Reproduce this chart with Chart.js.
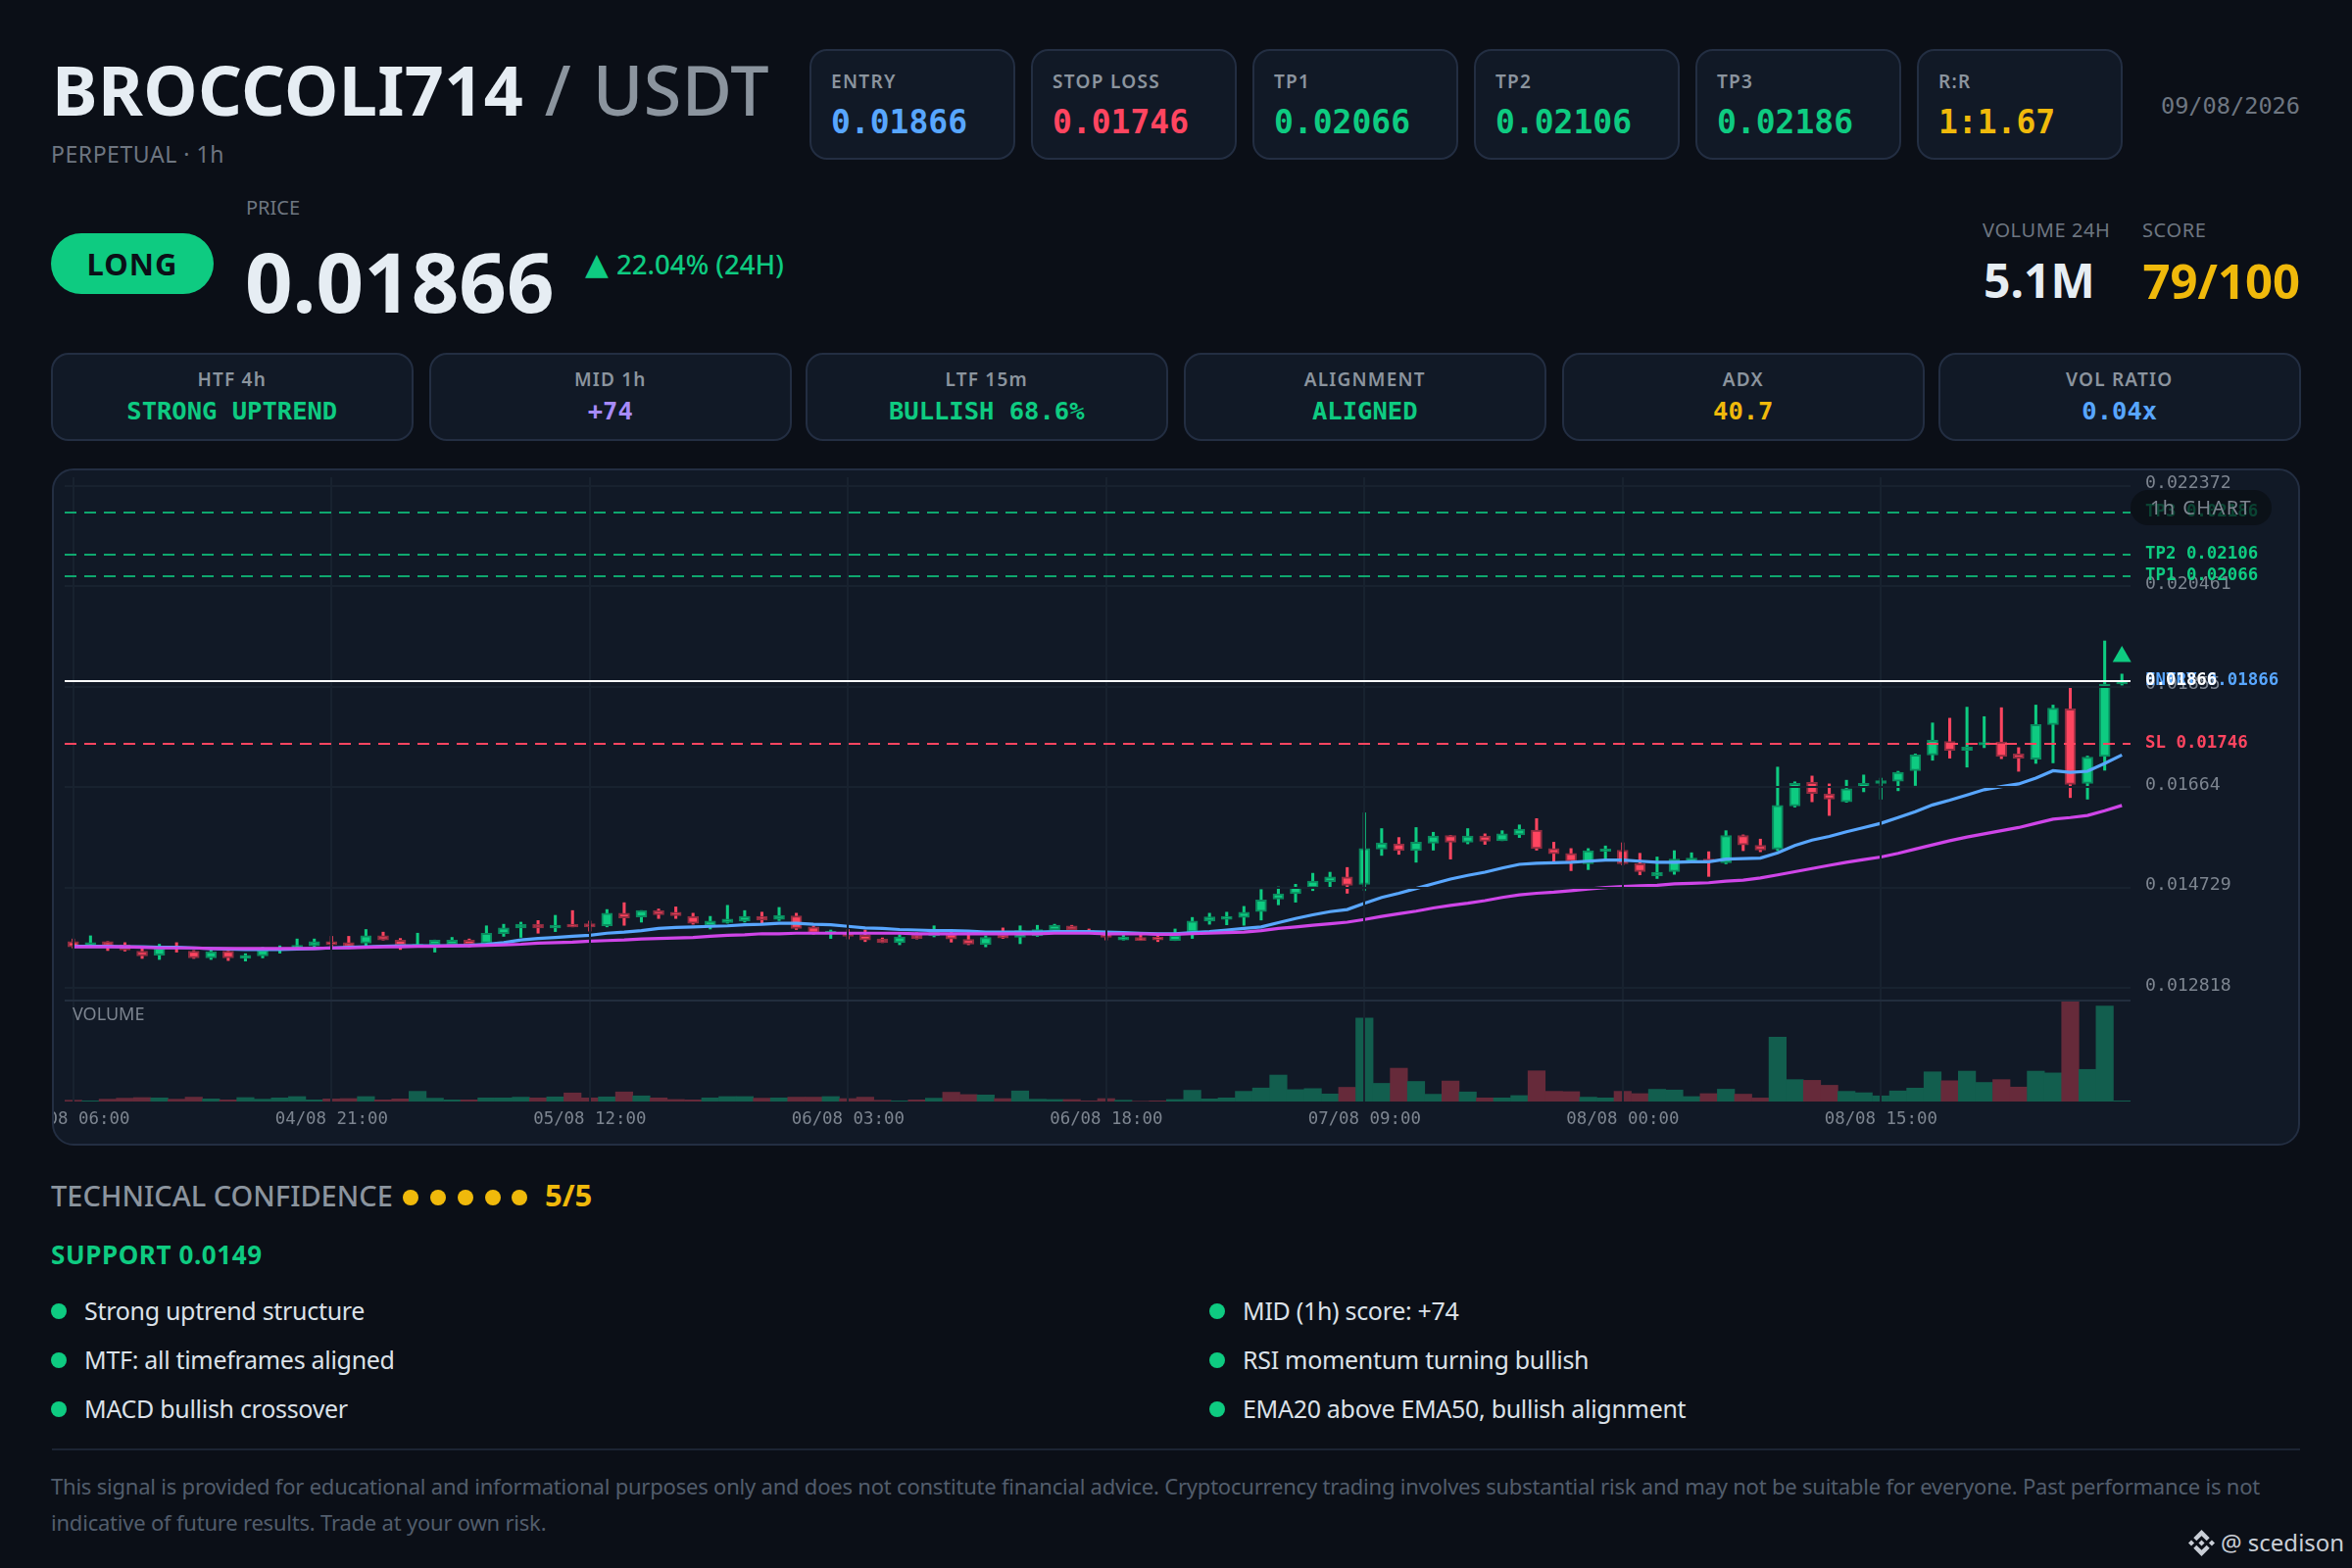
<!DOCTYPE html>
<html>
<head>
<meta charset="utf-8">
<title>BROCCOLI714 / USDT</title>
<script src="https://cdn.jsdelivr.net/npm/chart.js@4"></script>
<style>
    html, body { margin: 0; padding: 0; width: 2400px; height: 1600px; background: #0b0f17; overflow: hidden; }
    body { position: relative; font-family: "Noto Sans", sans-serif; color: #e6edf3; }
    .t { position: absolute; line-height: 1; white-space: nowrap; }
    .mono { font-family: "DejaVu Sans Mono", monospace; }
    .card { position: absolute; box-sizing: border-box; background: #111926; border: 2px solid #232e42; }
    .stat { top: 50px; width: 209.5px; height: 113px; border-radius: 18px; }
    .stat .lbl { left: 20px; top: 22px; font-size: 19px; font-weight: 600; letter-spacing: 1.3px; color: #8b949e; }
    .stat .val { left: 20px; top: 56px; font-size: 33px; font-weight: 700; }
    .tf { top: 360px; width: 369.5px; height: 90px; border-radius: 18px; }
    .tf .lbl { left: 0; right: 0; top: 16px; text-align: center; font-size: 19px; font-weight: 600; letter-spacing: 1.2px; color: #8b949e; }
    .tf .val { left: 0; right: 0; top: 45px; text-align: center; font-size: 25.5px; font-weight: 700; }
    .green { color: #0ecb81; } .red { color: #ff4560; } .blue { color: #58a6ff; }
    .yellow { color: #f0b90b; } .purple { color: #a78bfa; }
    .gray { color: #8b949e; }
    #chart-card { left: 53px; top: 478px; width: 2294px; height: 691px; border-radius: 22px; overflow: hidden; }
    #chart-card canvas { position: absolute; left: 0; top: 0; }
    #pill { left: 2119px; top: 20px; width: 144px; height: 36px; border-radius: 18px; background: rgba(10,14,20,0.72);
            text-align: center; line-height: 36px; font-size: 20px; letter-spacing: 1.4px; color: #7d8590; }
    .dot { position: absolute; width: 16px; height: 16px; border-radius: 50%; }
    .bullet { font-size: 25px; letter-spacing: -0.3px; color: #dbe1e8; }
    #rule { position: absolute; left: 53px; top: 1478px; width: 2294px; height: 2px; background: #1c2433; }
    #disclaimer { left: 52px; top: 1498px; font-size: 22px; letter-spacing: -0.21px; line-height: 36.7px; color: #525d6c; }
</style>
</head>
<body>

<!-- Header -->
<div class="t" style="left:53px;top:56px;font-size:70px;font-weight:700;letter-spacing:0.4px;word-spacing:3px">BROCCOLI714 <span style="font-weight:500;color:#8b949e">/ USDT</span></div>
<div class="t" style="left:52px;top:146px;font-size:23px;letter-spacing:0.55px;color:#6e7681">PERPETUAL · 1h</div>

<div class="card stat" style="left:826px"><div class="t lbl">ENTRY</div><div class="t val mono blue">0.01866</div></div>
<div class="card stat" style="left:1052px"><div class="t lbl">STOP LOSS</div><div class="t val mono red">0.01746</div></div>
<div class="card stat" style="left:1278px"><div class="t lbl">TP1</div><div class="t val mono green">0.02066</div></div>
<div class="card stat" style="left:1504px"><div class="t lbl">TP2</div><div class="t val mono green">0.02106</div></div>
<div class="card stat" style="left:1730px"><div class="t lbl">TP3</div><div class="t val mono green">0.02186</div></div>
<div class="card stat" style="left:1956px"><div class="t lbl">R:R</div><div class="t val mono yellow">1:1.67</div></div>
<div class="t mono" style="right:53px;top:96.5px;font-size:23.6px;color:#6e7681">09/08/2026</div>

<!-- Price row -->
<div class="t" style="left:251px;top:201.5px;font-size:20px;color:#6e7681">PRICE</div>
<div style="position:absolute;left:52px;top:238px;width:166px;height:62px;border-radius:31px;background:#0ecb81"></div>
<div class="t" style="left:52px;width:166px;text-align:center;top:254px;font-size:31px;font-weight:700;letter-spacing:1px;color:#0b0f17">LONG</div>
<div class="t" style="left:250px;top:244px;font-size:85px;font-weight:700">0.01866</div>
<div class="t green" style="left:597px;top:254px;font-size:31px;font-family:'DejaVu Sans'">▲</div>
<div class="t green" style="left:629px;top:256px;font-size:27.6px;font-weight:500">22.04% (24H)</div>
<div class="t" style="left:2023px;top:225px;font-size:20px;letter-spacing:0.6px;color:#6e7681">VOLUME 24H</div>
<div class="t" style="left:2186px;top:225px;font-size:20px;letter-spacing:0.6px;color:#6e7681">SCORE</div>
<div class="t" style="left:2024px;top:262px;font-size:48px;font-weight:700">5.1M</div>
<div class="t yellow" style="right:53px;top:262px;font-size:49px;font-weight:700">79/100</div>

<!-- Timeframe row -->
<div class="card tf" style="left:52px"><div class="t lbl">HTF 4h</div><div class="t val mono green">STRONG UPTREND</div></div>
<div class="card tf" style="left:438px"><div class="t lbl">MID 1h</div><div class="t val mono purple">+74</div></div>
<div class="card tf" style="left:822px"><div class="t lbl">LTF 15m</div><div class="t val mono green">BULLISH 68.6%</div></div>
<div class="card tf" style="left:1208px"><div class="t lbl">ALIGNMENT</div><div class="t val mono green">ALIGNED</div></div>
<div class="card tf" style="left:1594px"><div class="t lbl">ADX</div><div class="t val mono yellow">40.7</div></div>
<div class="card tf" style="left:1978px"><div class="t lbl">VOL RATIO</div><div class="t val mono blue">0.04x</div></div>

<!-- Chart -->
<div class="card" id="chart-card">
    <canvas id="priceChart" width="2290" height="687"></canvas>
    <div class="t" style="left:19px;top:545px;font-size:18px;color:#7d8590">VOLUME</div>
    <div class="t" id="pill">1h CHART</div>
</div>

<!-- Bottom section -->
<div class="t gray" style="left:52px;top:1205px;font-size:29px;font-weight:500">TECHNICAL CONFIDENCE</div>
<div class="dot" style="left:411px;top:1214px;background:#f0b90b"></div>
<div class="dot" style="left:439px;top:1214px;background:#f0b90b"></div>
<div class="dot" style="left:467px;top:1214px;background:#f0b90b"></div>
<div class="dot" style="left:495px;top:1214px;background:#f0b90b"></div>
<div class="dot" style="left:522px;top:1214px;background:#f0b90b"></div>
<div class="t yellow" style="left:556px;top:1204px;font-size:31px;font-weight:700">5/5</div>
<div class="t green" style="left:52px;top:1267px;font-size:26px;font-weight:700;letter-spacing:0.6px">SUPPORT 0.0149</div>

<div class="dot" style="left:52px;top:1330px;background:#0ecb81"></div>
<div class="t bullet" style="left:86px;top:1325px">Strong uptrend structure</div>
<div class="dot" style="left:52px;top:1380px;background:#0ecb81"></div>
<div class="t bullet" style="left:86px;top:1375px">MTF: all timeframes aligned</div>
<div class="dot" style="left:52px;top:1430px;background:#0ecb81"></div>
<div class="t bullet" style="left:86px;top:1425px">MACD bullish crossover</div>
<div class="dot" style="left:1234px;top:1330px;background:#0ecb81"></div>
<div class="t bullet" style="left:1268px;top:1325px">MID (1h) score: +74</div>
<div class="dot" style="left:1234px;top:1380px;background:#0ecb81"></div>
<div class="t bullet" style="left:1268px;top:1375px">RSI momentum turning bullish</div>
<div class="dot" style="left:1234px;top:1430px;background:#0ecb81"></div>
<div class="t bullet" style="left:1268px;top:1425px">EMA20 above EMA50, bullish alignment</div>

<div id="rule"></div>
<div class="t" id="disclaimer">This signal is provided for educational and informational purposes only and does not constitute financial advice. Cryptocurrency trading involves substantial risk and may not be suitable for everyone. Past performance is not<br>indicative of future results. Trade at your own risk.</div>

<svg style="position:absolute;left:2233px;top:1561px" width="27" height="27" viewBox="0 0 24 24" fill="#c9ced6">
    <path d="M7.4 10.1 12 5.5l4.6 4.6 2.7-2.7L12 0 4.7 7.4zM0 12l2.7-2.7L5.4 12l-2.7 2.7zM7.4 13.9 12 18.5l4.6-4.6 2.7 2.7L12 24l-7.3-7.4zM18.6 12l2.7-2.7L24 12l-2.7 2.7zM14.7 12 12 9.3 9.3 12 12 14.7z"/>
</svg>
<div class="t" style="left:2266px;top:1562px;font-size:24px;color:#c9ced6">@ scedison</div>

<script>
// ---------- Data ----------
const timeTickLabels = ['04/08 06:00', '04/08 21:00', '05/08 12:00', '06/08 03:00', '06/08 18:00', '07/08 09:00', '08/08 00:00', '08/08 15:00'];
const priceTicks = [0.012818, 0.014729, 0.01664, 0.01855, 0.020461, 0.022372];

const opens = [
    0.01370, 0.01360, 0.01370, 0.01364, 0.01352, 0.01344, 0.01360, 0.01352, 0.01339, 0.01352,
    0.01338, 0.01343, 0.01356, 0.01358, 0.01362, 0.01370, 0.01368, 0.01367, 0.01381, 0.01373,
    0.01363, 0.01364, 0.01364, 0.01373, 0.01367, 0.01385, 0.01396, 0.01403, 0.01396, 0.01403,
    0.01404, 0.01400, 0.01424, 0.01417, 0.01429, 0.01426, 0.01418, 0.01400, 0.01406, 0.01409,
    0.01418, 0.01412, 0.01419, 0.01398, 0.01387, 0.01387, 0.01382, 0.01375, 0.01368, 0.01382,
    0.01381, 0.01385, 0.01374, 0.01364, 0.01382, 0.01378, 0.01381, 0.01392, 0.01400, 0.01391,
    0.01389, 0.01373, 0.01378, 0.01379, 0.01372, 0.01388, 0.01409, 0.01412, 0.01416, 0.01427,
    0.01451, 0.01461, 0.01473, 0.01484, 0.01493, 0.01479, 0.01546, 0.01556, 0.01543, 0.01557,
    0.01572, 0.01559, 0.01571, 0.01562, 0.01573, 0.01582, 0.01547, 0.01538, 0.01518, 0.01542,
    0.01544, 0.01518, 0.01495, 0.01503, 0.01521, 0.01527, 0.01520, 0.01572, 0.01553, 0.01546,
    0.01628, 0.01673, 0.01651, 0.01636, 0.01663, 0.01671, 0.01675, 0.01695, 0.01725, 0.01751,
    0.01734, 0.01744, 0.01750, 0.01727, 0.01717, 0.01783, 0.01813, 0.01671, 0.01722, 0.01860
];
const highs = [
    0.01375, 0.01381, 0.01370, 0.01368, 0.01356, 0.01365, 0.01368, 0.01353, 0.01354, 0.01353,
    0.01347, 0.01359, 0.01362, 0.01375, 0.01375, 0.01380, 0.01380, 0.01393, 0.01388, 0.01376,
    0.01386, 0.01373, 0.01378, 0.01375, 0.01400, 0.01403, 0.01407, 0.01410, 0.01420, 0.01429,
    0.01409, 0.01431, 0.01444, 0.01429, 0.01432, 0.01436, 0.01424, 0.01418, 0.01439, 0.01429,
    0.01426, 0.01435, 0.01424, 0.01400, 0.01392, 0.01393, 0.01392, 0.01377, 0.01383, 0.01387,
    0.01400, 0.01391, 0.01391, 0.01381, 0.01396, 0.01400, 0.01401, 0.01403, 0.01401, 0.01394,
    0.01390, 0.01384, 0.01384, 0.01385, 0.01394, 0.01416, 0.01424, 0.01426, 0.01437, 0.01469,
    0.01474, 0.01479, 0.01500, 0.01502, 0.01511, 0.01615, 0.01585, 0.01568, 0.01587, 0.01578,
    0.01572, 0.01585, 0.01575, 0.01581, 0.01592, 0.01604, 0.01559, 0.01547, 0.01547, 0.01552,
    0.01558, 0.01538, 0.01531, 0.01543, 0.01539, 0.01541, 0.01581, 0.01573, 0.01565, 0.01702,
    0.01674, 0.01685, 0.01670, 0.01677, 0.01687, 0.01681, 0.01694, 0.01727, 0.01786, 0.01795,
    0.01816, 0.01798, 0.01815, 0.01739, 0.01820, 0.01820, 0.01855, 0.01723, 0.01942, 0.01879
];
const lows = [
    0.01358, 0.01359, 0.01353, 0.01352, 0.01338, 0.01336, 0.01350, 0.01338, 0.01336, 0.01334,
    0.01333, 0.01339, 0.01348, 0.01356, 0.01360, 0.01358, 0.01357, 0.01362, 0.01373, 0.01355,
    0.01360, 0.01350, 0.01362, 0.01360, 0.01364, 0.01380, 0.01378, 0.01386, 0.01389, 0.01398,
    0.01390, 0.01398, 0.01401, 0.01407, 0.01414, 0.01414, 0.01403, 0.01394, 0.01405, 0.01407,
    0.01405, 0.01410, 0.01393, 0.01384, 0.01376, 0.01375, 0.01370, 0.01368, 0.01364, 0.01375,
    0.01379, 0.01369, 0.01364, 0.01360, 0.01376, 0.01366, 0.01380, 0.01390, 0.01390, 0.01386,
    0.01373, 0.01373, 0.01372, 0.01370, 0.01372, 0.01376, 0.01403, 0.01402, 0.01401, 0.01411,
    0.01440, 0.01445, 0.01467, 0.01474, 0.01462, 0.01467, 0.01534, 0.01536, 0.01521, 0.01544,
    0.01527, 0.01556, 0.01555, 0.01562, 0.01568, 0.01544, 0.01522, 0.01505, 0.01507, 0.01524,
    0.01516, 0.01497, 0.01490, 0.01498, 0.01521, 0.01494, 0.01518, 0.01543, 0.01541, 0.01543,
    0.01626, 0.01636, 0.01610, 0.01635, 0.01655, 0.01641, 0.01657, 0.01667, 0.01715, 0.01719,
    0.01702, 0.01739, 0.01718, 0.01694, 0.01709, 0.01710, 0.01644, 0.01641, 0.01696, 0.01858
];
const closes = [
    0.01360, 0.01368, 0.01362, 0.01354, 0.01343, 0.01358, 0.01358, 0.01339, 0.01351, 0.01339,
    0.01344, 0.01354, 0.01358, 0.01363, 0.01370, 0.01364, 0.01360, 0.01381, 0.01373, 0.01363,
    0.01365, 0.01373, 0.01373, 0.01364, 0.01386, 0.01396, 0.01403, 0.01396, 0.01401, 0.01398,
    0.01398, 0.01424, 0.01415, 0.01429, 0.01421, 0.01419, 0.01405, 0.01409, 0.01413, 0.01418,
    0.01411, 0.01420, 0.01395, 0.01386, 0.01390, 0.01380, 0.01373, 0.01368, 0.01379, 0.01376,
    0.01390, 0.01375, 0.01365, 0.01378, 0.01377, 0.01391, 0.01393, 0.01401, 0.01392, 0.01388,
    0.01378, 0.01379, 0.01372, 0.01373, 0.01382, 0.01409, 0.01417, 0.01418, 0.01426, 0.01449,
    0.01461, 0.01474, 0.01485, 0.01493, 0.01477, 0.01547, 0.01558, 0.01543, 0.01559, 0.01571,
    0.01559, 0.01571, 0.01561, 0.01575, 0.01584, 0.01547, 0.01537, 0.01522, 0.01543, 0.01546,
    0.01518, 0.01503, 0.01502, 0.01527, 0.01529, 0.01521, 0.01572, 0.01554, 0.01544, 0.01629,
    0.01671, 0.01652, 0.01641, 0.01661, 0.01671, 0.01676, 0.01692, 0.01725, 0.01753, 0.01734,
    0.01740, 0.01749, 0.01722, 0.01719, 0.01783, 0.01814, 0.01669, 0.01721, 0.01860, 0.01866
];
const ema20 = [
    0.01361, 0.01361, 0.01361, 0.01360, 0.01360, 0.01359, 0.01359, 0.01358, 0.01357, 0.01356,
    0.01355, 0.01355, 0.01355, 0.01356, 0.01357, 0.01358, 0.01359, 0.01360, 0.01361, 0.01362,
    0.01362, 0.01362, 0.01362, 0.01363, 0.01365, 0.01368, 0.01373, 0.01376, 0.01378, 0.01380,
    0.01382, 0.01386, 0.01388, 0.01391, 0.01395, 0.01397, 0.01398, 0.01399, 0.01400, 0.01402,
    0.01403, 0.01405, 0.01405, 0.01403, 0.01402, 0.01399, 0.01396, 0.01395, 0.01393, 0.01392,
    0.01391, 0.01391, 0.01390, 0.01388, 0.01388, 0.01388, 0.01388, 0.01389, 0.01389, 0.01389,
    0.01388, 0.01387, 0.01386, 0.01385, 0.01385, 0.01387, 0.01389, 0.01392, 0.01395, 0.01398,
    0.01406, 0.01414, 0.01421, 0.01427, 0.01431, 0.01443, 0.01454, 0.01462, 0.01471, 0.01480,
    0.01489, 0.01496, 0.01502, 0.01510, 0.01517, 0.01519, 0.01520, 0.01521, 0.01523, 0.01525,
    0.01525, 0.01523, 0.01521, 0.01521, 0.01522, 0.01522, 0.01527, 0.01528, 0.01529, 0.01539,
    0.01553, 0.01563, 0.01570, 0.01579, 0.01587, 0.01595, 0.01606, 0.01617, 0.01630, 0.01639,
    0.01649, 0.01659, 0.01665, 0.01670, 0.01681, 0.01695, 0.01692, 0.01694, 0.01709, 0.01725
];
const ema50 = [
    0.01360, 0.01360, 0.01360, 0.01360, 0.01359, 0.01358, 0.01358, 0.01358, 0.01357, 0.01357,
    0.01357, 0.01357, 0.01357, 0.01357, 0.01357, 0.01358, 0.01358, 0.01359, 0.01360, 0.01360,
    0.01361, 0.01361, 0.01362, 0.01362, 0.01363, 0.01364, 0.01365, 0.01367, 0.01368, 0.01369,
    0.01371, 0.01372, 0.01373, 0.01375, 0.01376, 0.01377, 0.01378, 0.01380, 0.01382, 0.01383,
    0.01385, 0.01385, 0.01386, 0.01386, 0.01386, 0.01386, 0.01386, 0.01386, 0.01386, 0.01385,
    0.01385, 0.01385, 0.01385, 0.01385, 0.01385, 0.01385, 0.01385, 0.01386, 0.01386, 0.01386,
    0.01385, 0.01385, 0.01385, 0.01384, 0.01384, 0.01385, 0.01386, 0.01387, 0.01388, 0.01391,
    0.01395, 0.01398, 0.01401, 0.01404, 0.01407, 0.01412, 0.01418, 0.01423, 0.01428, 0.01434,
    0.01439, 0.01443, 0.01448, 0.01454, 0.01459, 0.01462, 0.01464, 0.01467, 0.01470, 0.01473,
    0.01475, 0.01476, 0.01477, 0.01480, 0.01481, 0.01482, 0.01485, 0.01487, 0.01491, 0.01497,
    0.01503, 0.01509, 0.01515, 0.01521, 0.01526, 0.01531, 0.01538, 0.01546, 0.01554, 0.01562,
    0.01569, 0.01575, 0.01581, 0.01587, 0.01595, 0.01603, 0.01606, 0.01610, 0.01619, 0.01629
];
const volumes = [
    13, 7, 23, 33, 39, 36, 23, 43, 26, 16,
    39, 23, 36, 49, 16, 26, 29, 49, 16, 26,
    101, 33, 16, 16, 36, 36, 43, 36, 46, 85,
    36, 46, 95, 56, 36, 20, 16, 36, 49, 49,
    33, 36, 43, 43, 49, 29, 43, 13, 7, 16,
    33, 92, 69, 65, 29, 105, 23, 20, 20, 7,
    29, 13, 3, 7, 20, 111, 26, 36, 101, 134,
    262, 118, 128, 75, 141, 827, 180, 330, 199, 72,
    203, 95, 36, 36, 59, 304, 101, 98, 43, 36,
    101, 78, 121, 114, 49, 78, 122, 73, 35, 637,
    217, 210, 161, 101, 87, 56, 105, 133, 294, 206,
    301, 189, 217, 143, 301, 283, 994, 318, 945, 7
];
const levelNames = ['TP3', 'TP2', 'TP1', 'SL'];
const levelPrices = [0.02186, 0.02106, 0.02066, 0.01746];
const entryPrice = 0.01866;
const signalMarker = opens.map((_, i) => i === opens.length - 1 ? 0.01912 : null);

// ---------- Colours ----------
const GREEN = '#0ecb81', GREEN_EDGE = '#0a8a5e', RED = '#ff4560', RED_EDGE = '#8f2d40';
const GREEN_VOL = '#125e4e', RED_VOL = '#662a3a';
const GRID = '#18222f', TICK = '#7d8590';

const isUp = i => closes[i] >= opens[i];
const labels = opens.map((_, i) => timeTickLabels[i / 15] || '');

// ---------- Level lines and their right hand labels ----------
const levelsPlugin = {
    id: 'levels',
    afterDraw(chart) {
        const { ctx, chartArea, scales } = chart;
        const y = scales.y;
        const labelX = chartArea.right + 15;

        ctx.save();
        ctx.textBaseline = 'middle';
        ctx.lineWidth = 2;

        levelPrices.forEach((price, i) => {
            const py = Math.round(y.getPixelForValue(price));
            const color = levelNames[i] === 'SL' ? RED : GREEN;
            ctx.strokeStyle = levelNames[i] === 'SL' ? RED : 'rgba(14,203,129,0.8)';
            ctx.setLineDash([12, 8]);
            ctx.beginPath();
            ctx.moveTo(chartArea.left, py);
            ctx.lineTo(chartArea.right, py);
            ctx.stroke();
            ctx.fillStyle = color;
            ctx.font = '600 17.4px "DejaVu Sans Mono"';
            ctx.fillText(levelNames[i] + ' ' + price.toFixed(5), labelX, py - 1);
        });

        const ey = Math.round(y.getPixelForValue(entryPrice));
        ctx.setLineDash([]);
        ctx.strokeStyle = '#ffffff';
        ctx.beginPath();
        ctx.moveTo(chartArea.left, ey);
        ctx.lineTo(chartArea.right, ey);
        ctx.stroke();
        ctx.fillStyle = '#58a6ff';
        ctx.font = '600 17.4px "DejaVu Sans Mono"';
        ctx.fillText('ENTRY ' + entryPrice.toFixed(5), labelX, ey - 1);
        ctx.fillStyle = '#ffffff';
        ctx.font = '700 17.4px "DejaVu Sans Mono"';
        ctx.fillText(entryPrice.toFixed(5), labelX, ey - 1);
        ctx.restore();
    }
};

// ---------- Chart ----------
new Chart(document.getElementById('priceChart'), {
    type: 'bar',
    plugins: [levelsPlugin],
    data: {
        labels: labels,
        datasets: [
            {
                type: 'line', label: 'Signal', data: signalMarker, yAxisID: 'y', order: 0, clip: false,
                showLine: false, pointStyle: 'triangle', pointRadius: 11,
                pointBackgroundColor: GREEN, pointBorderWidth: 0
            },
            {
                type: 'line', label: 'EMA50', data: ema50, yAxisID: 'y', order: 1,
                borderColor: '#cf45e8', borderWidth: 3.2, pointRadius: 0, tension: 0
            },
            {
                type: 'line', label: 'EMA20', data: ema20, yAxisID: 'y', order: 2,
                borderColor: '#58a6ff', borderWidth: 3.2, pointRadius: 0, tension: 0
            },
            {
                label: 'Body', yAxisID: 'y', order: 3, grouped: false, barThickness: 11,
                data: opens.map((o, i) => [Math.min(o, closes[i]), Math.max(o, closes[i])]),
                backgroundColor: opens.map((_, i) => isUp(i) ? GREEN : RED),
                borderColor: opens.map((_, i) => isUp(i) ? GREEN_EDGE : RED_EDGE),
                borderWidth: 2, borderSkipped: false
            },
            {
                label: 'Wick', yAxisID: 'y', order: 4, grouped: false, barThickness: 2.4,
                data: lows.map((l, i) => [l, highs[i]]),
                backgroundColor: opens.map((_, i) => isUp(i) ? GREEN : RED)
            },
            {
                label: 'Volume', yAxisID: 'yVol', order: 5, grouped: false,
                barPercentage: 1, categoryPercentage: 1,
                data: volumes,
                backgroundColor: opens.map((_, i) => isUp(i) ? GREEN_VOL : RED_VOL)
            }
        ]
    },
    options: {
        responsive: false,
        animation: false,
        // the marker's point radius would otherwise push the chart area in
        layout: { autoPadding: false, padding: { left: 11, top: 7, right: 0, bottom: 0 } },
        plugins: { legend: { display: false }, tooltip: { enabled: false } },
        scales: {
            x: {
                type: 'category',
                offset: true,
                afterBuildTicks: s => { s.ticks = s.ticks.filter(t => t.value % 15 === 0); },
                afterFit: s => { s.height = 43; s.paddingLeft = 0; s.paddingRight = 0; },
                grid: { color: GRID, lineWidth: 2, z: 1, offset: false, drawTicks: false },
                border: { display: false },
                ticks: {
                    autoSkip: false, maxRotation: 0, padding: 8, color: TICK,
                    font: { family: '"DejaVu Sans Mono"', size: 17.4 },
                    callback(value) { return labels[value]; }
                }
            },
            y: {
                position: 'right',
                stack: 'panes',
                stackWeight: 534,
                min: 0.012578,
                max: 0.022534,
                afterBuildTicks: s => { s.ticks = priceTicks.map(v => ({ value: v })); },
                afterFit: s => { s.width = 171; s.paddingTop = 0; s.paddingBottom = 0; },
                grid: { color: GRID, lineWidth: 2, z: 1, drawTicks: false },
                border: { display: false },
                ticks: {
                    padding: 15, color: TICK,
                    // empty second line with a 4px line height lifts each label 2px above its grid line
                    font: { family: '"DejaVu Sans Mono"', size: 18.2, lineHeight: '4px' },
                    callback: v => [String(v), '']
                }
            },
            yVol: {
                position: 'right',
                stack: 'panes',
                stackWeight: 103,
                min: 0,
                max: 1000,
                afterBuildTicks: s => { s.ticks = [{ value: 1000 }]; },
                afterFit: s => { s.width = 171; s.paddingTop = 0; s.paddingBottom = 0; },
                grid: { color: '#222d3d', lineWidth: 2, z: 1, drawTicks: false },
                border: { display: false },
                ticks: { display: false }
            }
        }
    }
});
</script>
</body>
</html>
